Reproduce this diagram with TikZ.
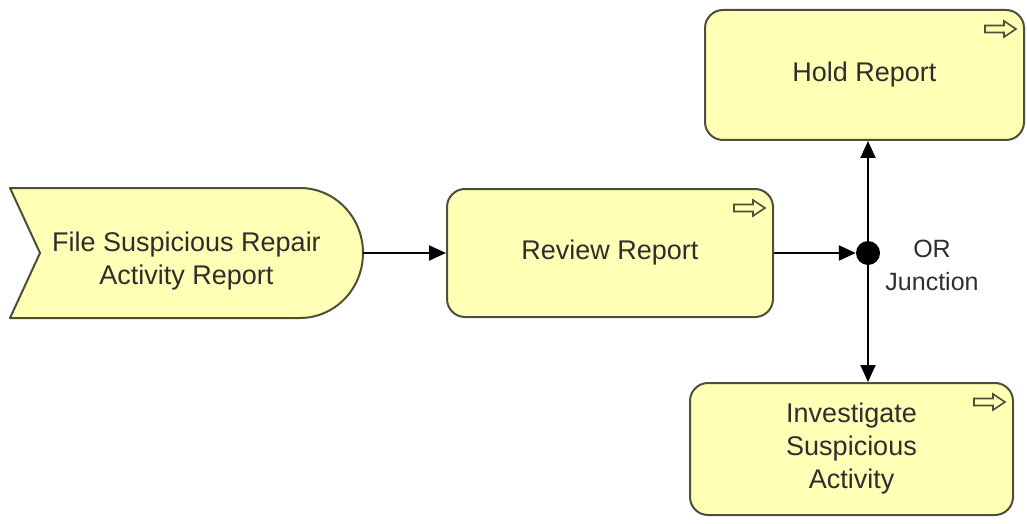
\documentclass[tikz,border=0pt]{standalone}
\usepackage{fontspec}
\setmainfont{Liberation Sans}
\usetikzlibrary{arrows.meta}
\definecolor{bizfill}{HTML}{FFFFB5}
\definecolor{bizline}{HTML}{4F4F38}
\definecolor{txt}{HTML}{2E2E2E}

\begin{document}
\begin{tikzpicture}[x=1pt,y=1pt,
proc/.style={draw=bizline, fill=bizfill, line width=2pt, rounded corners=18pt,
  align=center, text=txt, font=\fontsize{27}{33}\selectfont},
evshape/.style={draw=bizline, fill=bizfill, line width=2pt, line join=round},
icon/.style={draw=bizline, line width=1.6pt, line join=miter},
flow/.style={draw=black, line width=2pt, -{Triangle[length=17pt,width=15pt]}},
junc/.style={circle, fill=black, minimum size=24pt, inner sep=0pt}]
\useasboundingbox (0,0) rectangle (1027,523);
% business event
\draw[evshape] (10,335) -- (300,335) arc[start angle=90, end angle=-90,
  x radius=63pt, y radius=65pt] -- (10,205) -- (40,270) -- cycle;
\node[align=center, text=txt, font=\fontsize{27}{33}\selectfont,
  minimum width=353pt, minimum height=130pt] (e0) at (186.5,262)
  {File Suspicious Repair\\Activity Report};
% processes
\node[proc, minimum width=326pt, minimum height=128pt] (p1) at (610,270) {Review Report};
\node[proc, minimum width=319pt, minimum height=130pt] (p2) at (864.5,448) {Hold Report};
\node[proc, minimum width=323pt, minimum height=132pt] (p3) at (851.5,74)
  {Investigate\\Suspicious\\Activity};
\foreach \n in {p1,p2,p3}
  \draw[icon] ([xshift=-40pt,yshift=-16.5pt]\n.north east) -- ++(19,0) -- ++(0,4.5)
    -- ++(12,-8) -- ++(-12,-8) -- ++(0,4.5) -- ++(-19,0) -- cycle;
% junction
\node[junc] (j0) at (868,270) {};
\node[text=txt, align=center, font=\fontsize{25}{33}\selectfont] (jl) at (932,258)
  {OR\\Junction};
\draw[flow] (e0.east |- p1.west) -- (p1.west);
\draw[flow] (p1.east) -- (j0.west);
\draw[flow] (j0) -- (j0 |- p2.south);
\draw[flow] (j0) -- (j0 |- p3.north);
\end{tikzpicture}
\end{document}
